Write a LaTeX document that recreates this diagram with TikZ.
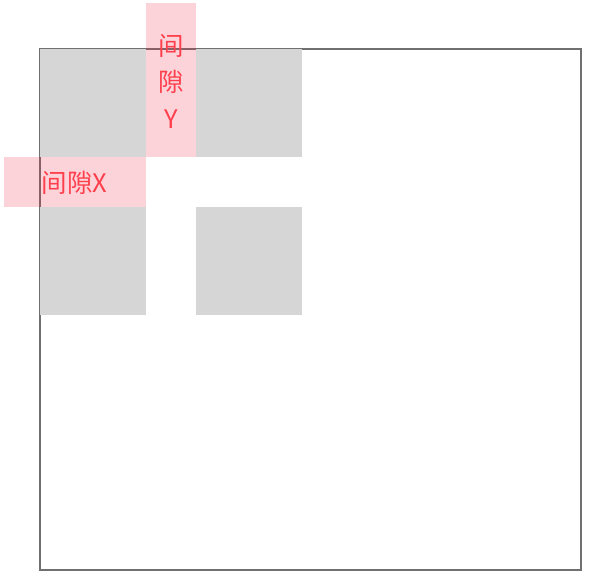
\documentclass[tikz,border=0pt]{standalone}
\usepackage{fontspec}
\newfontfamily\cjk{Noto Sans CJK SC}
\definecolor{framegray}{RGB}{112,112,112}
\definecolor{cellgray}{RGB}{214,214,214}
\definecolor{gapred}{RGB}{245,35,70}
\definecolor{labelred}{RGB}{255,64,76}

\begin{document}
\begin{tikzpicture}[x=1pt, y=-1pt,
  frame/.style={draw=framegray, line width=1.6pt, inner sep=0, minimum width=541pt, minimum height=521pt},
  cell/.style={fill=cellgray, inner sep=0, anchor=north west, minimum width=106pt, minimum height=108pt},
  gap/.style={fill=gapred, fill opacity=0.2, inner sep=0, anchor=north west},
  gaplabel/.style={text=labelred, text opacity=1, font=\cjk\fontsize{25.5}{36.5}\selectfont}]
\useasboundingbox (0,0) rectangle (596,581);
\node[frame] (box) at (310.5,309.5) {};
% Cells:
\node[cell] (c11) at (40,49) {};
\node[cell] (c12) at (196,49) {};
\node[cell] (c21) at (40,207) {};
\node[cell] (c22) at (196,207) {};
% Gaps:
\node[gap, minimum width=50pt, minimum height=154pt] (gapy) at (146,3) {};
\node[gap, minimum width=142pt, minimum height=50pt] (gapx) at (4,157) {};
\node[gaplabel, align=center] (labely) at ([yshift=-1pt]gapy.center) {间\\隙\\Y};
\node[gaplabel, anchor=west, inner sep=0] (labelx) at (41.5,183) {间隙X};
\end{tikzpicture}
\end{document}
